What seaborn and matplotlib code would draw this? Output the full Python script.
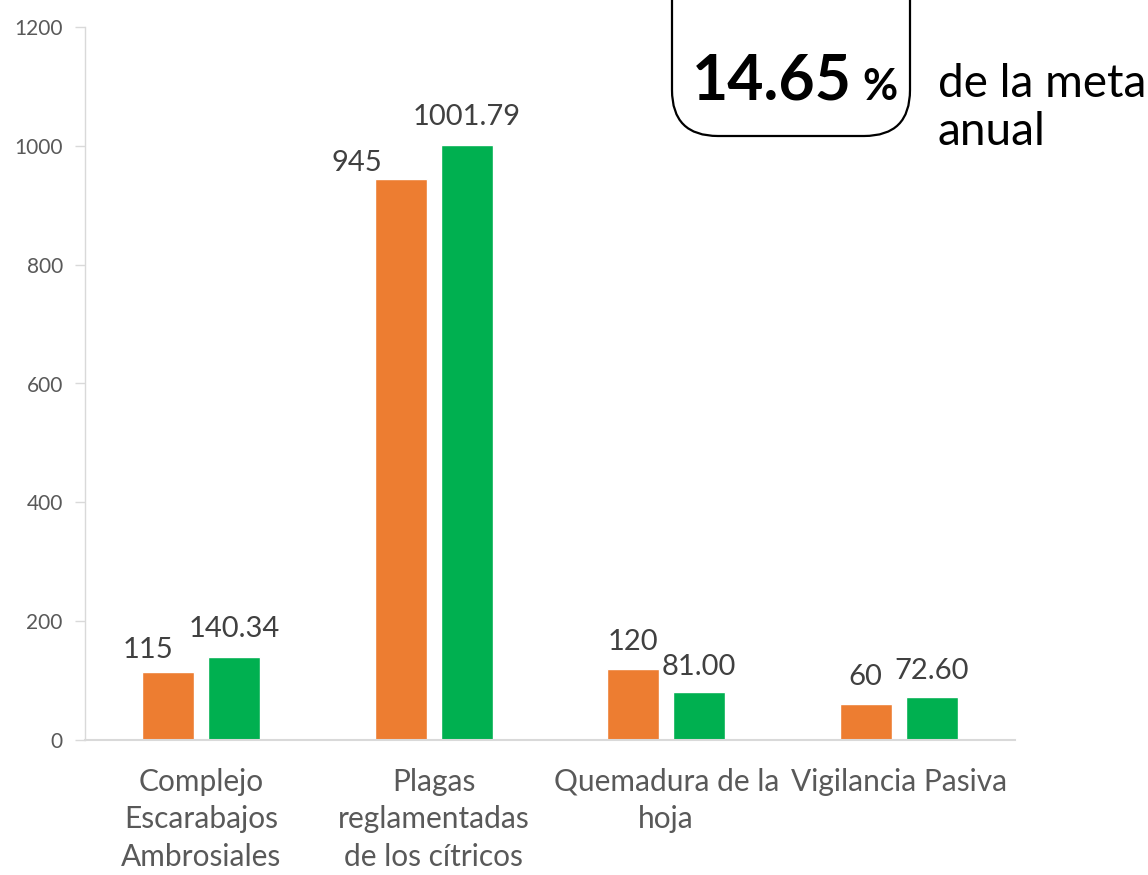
import matplotlib
matplotlib.use("Agg")
import matplotlib.pyplot as plt
import seaborn as sns
import pandas as pd
from matplotlib.patches import FancyBboxPatch

categories = ["Complejo\nEscarabajos\nAmbrosiales",
              "Plagas\nreglamentadas\nde los cítricos",
              "Quemadura de la\nhoja",
              "Vigilancia Pasiva"]
series_names = ["Meta", "Avance"]
meta_values = [115, 945, 120, 60]
avance_values = [140.34, 1001.79, 81.00, 72.60]
meta_labels = ["115", "945", "120", "60"]
avance_labels = ["140.34", "1001.79", "81.00", "72.60"]
y_ticks = [0, 200, 400, 600, 800, 1000, 1200]
pct_text = "14.65"
side_line1 = "de la meta"
side_line2 = "anual"

df = pd.DataFrame({
    "categoria": categories * 2,
    "serie": [series_names[0]] * 4 + [series_names[1]] * 4,
    "valor": meta_values + avance_values,
})

sns.set_theme(style="white")
plt.rcParams["font.family"] = ["Lato", "DejaVu Sans"]

fig = plt.figure(figsize=(11.48, 8.75), dpi=100)
ax = fig.add_axes([85 / 1148, 1 - 740 / 875, 930 / 1148, 713 / 875])

sns.barplot(data=df, x="categoria", y="valor", hue="serie",
            palette=["#ED7D31", "#00B050"], width=0.568, gap=0.21,
            order=categories, hue_order=series_names, ax=ax,
            legend=False, saturation=1)

ax.set_ylim(0, 1200)
ax.set_xlim(-0.5, 3.5)
ax.set_yticks(y_ticks)
ax.set_xlabel("")
ax.set_ylabel("")
ax.tick_params(axis="y", labelsize=15, labelcolor="#595959", length=7,
               color="#d9d9d9", width=1, left=True, pad=9)
ax.tick_params(axis="x", labelsize=21.5, labelcolor="#595959", length=0, pad=20)
for lab in ax.get_xticklabels():
    lab.set_linespacing(1.42)
for side in ["top", "right"]:
    ax.spines[side].set_visible(False)
ax.spines["left"].set_color("#d9d9d9")
ax.spines["bottom"].set_color("#d9d9d9")
ax.spines["left"].set_linewidth(1)
ax.spines["bottom"].set_linewidth(1.5)

# data labels (pixel offsets from bar top centre)
meta_offsets = [(-20, 14), (-44, 8), (0, 19), (0, 19)]
avance_offsets = [(0, 20), (0, 20), (0, 17), (0, 18)]
containers = ax.containers
for cont, labels, offs in [(containers[0], meta_labels, meta_offsets),
                           (containers[1], avance_labels, avance_offsets)]:
    for bar, lab, (dx, dy) in zip(cont, labels, offs):
        xc = bar.get_x() + bar.get_width() / 2
        ax.annotate(lab, (xc, bar.get_height()), xytext=(dx, dy),
                    textcoords="offset pixels", ha="center", va="baseline",
                    fontsize=21, color="#404040")

# rounded box at top
box = FancyBboxPatch((672 / 1148, 1 - 136 / 875), 238 / 1148, 200 / 875,
                     boxstyle="round,pad=0,rounding_size=0.04",
                     transform=fig.transFigure, facecolor="white",
                     edgecolor="black", linewidth=1.6, clip_on=False,
                     mutation_aspect=1148 / 875)
fig.patches.append(box)
fig.text(772 / 1148, 1 - 100 / 875, pct_text, ha="center", va="baseline",
         fontsize=45, fontweight="bold", color="black")
fig.text(880 / 1148, 1 - 100 / 875, "%", ha="center", va="baseline",
         fontsize=31, fontweight="bold", color="black")
fig.text(938 / 1148, 1 - 97 / 875, side_line1, ha="left", va="baseline",
         fontsize=33, color="black")
fig.text(938 / 1148, 1 - 145 / 875, side_line2, ha="left", va="baseline",
         fontsize=33, color="black")

fig.savefig("out.png", dpi=100)
